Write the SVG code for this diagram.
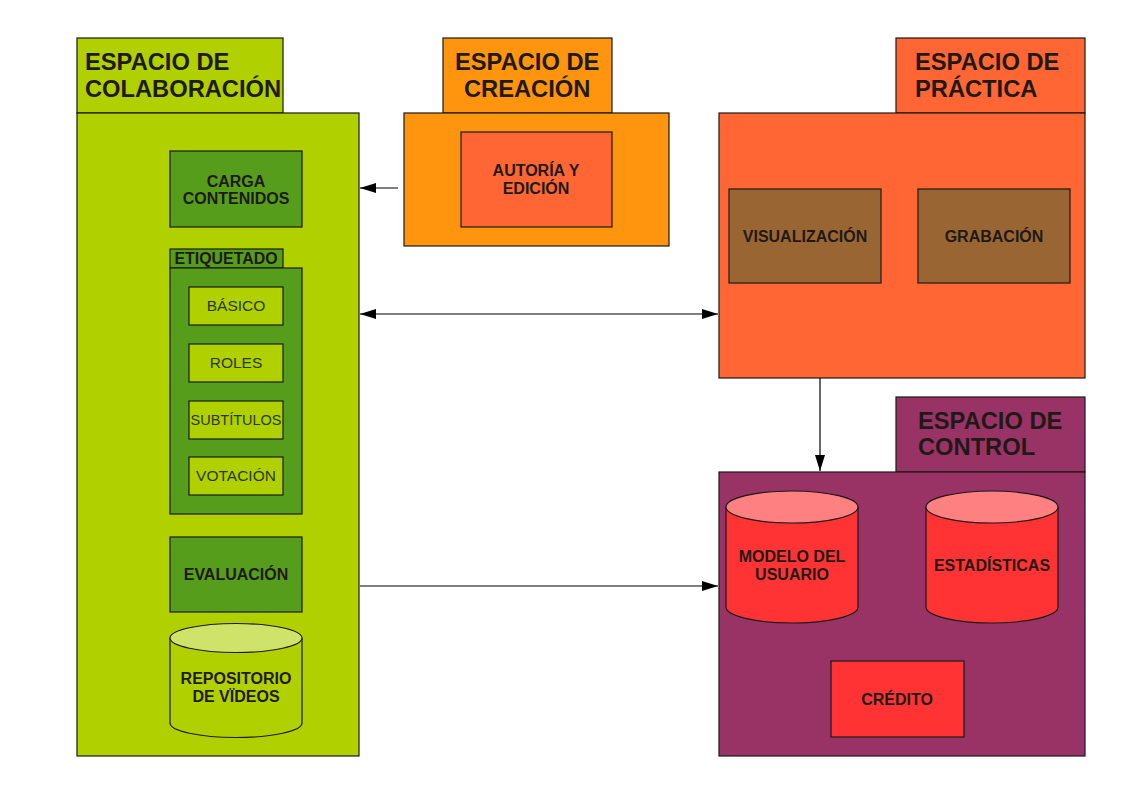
<svg xmlns="http://www.w3.org/2000/svg" width="1123" height="794" viewBox="0 0 1123 794">
<style>
.s{stroke:#1a1a1a;stroke-width:1.2}
.t{font-family:"Liberation Sans",Arial,sans-serif;font-weight:bold;font-size:23.7px;fill:#1f1a17}
.b{font-family:"Liberation Sans",Arial,sans-serif;font-weight:bold;font-size:16px;fill:#1f1a17;text-anchor:middle}
.r{font-family:"Liberation Sans",Arial,sans-serif;font-size:15.5px;fill:#2a3a10;text-anchor:middle}
.ln{stroke:#000;stroke-width:1.2;fill:none}
</style>
<defs>
<marker id="ah" viewBox="0 0 16 10" refX="16" refY="5" markerWidth="16" markerHeight="10" markerUnits="userSpaceOnUse" orient="auto-start-reverse"><path d="M0,0 L16,5 L0,10 Z" fill="#000"/></marker>
</defs>
<rect width="1123" height="794" fill="#fff"/>

<g id="colaboracion">
<rect class="s" x="77" y="38" width="206" height="75" fill="#b0d000"/>
<rect class="s" x="77" y="113" width="282" height="643" fill="#b0d000"/>
<text class="t" x="85" y="70">ESPACIO DE</text>
<text class="t" x="85" y="97">COLABORACIÓN</text>
</g>
<g id="carga">
<rect class="s" x="170" y="151" width="132" height="76" fill="#579d1c"/>
<text class="b" x="236" y="187">CARGA</text>
<text class="b" x="236" y="204">CONTENIDOS</text>
</g>
<g id="etiquetado">
<rect class="s" x="170" y="249" width="113" height="19" fill="#579d1c"/>
<rect class="s" x="170" y="268" width="132" height="246" fill="#579d1c"/>
<text class="b" x="226" y="264" textLength="103" lengthAdjust="spacingAndGlyphs">ETIQUETADO</text>
</g>
<g id="basico"><rect class="s" x="189" y="287" width="94" height="38" fill="#b0d000"/><text class="r" x="236" y="311">BÁSICO</text></g>
<g id="roles"><rect class="s" x="189" y="344" width="94" height="38" fill="#b0d000"/><text class="r" x="236" y="368">ROLES</text></g>
<g id="subtitulos"><rect class="s" x="189" y="401" width="94" height="38" fill="#b0d000"/><text class="r" x="236" y="425" textLength="91" lengthAdjust="spacingAndGlyphs">SUBTÍTULOS</text></g>
<g id="votacion"><rect class="s" x="189" y="457" width="94" height="38" fill="#b0d000"/><text class="r" x="236" y="481">VOTACIÓN</text></g>
<g id="evaluacion">
<rect class="s" x="170" y="537" width="132" height="75" fill="#579d1c"/>
<text class="b" x="236" y="580">EVALUACIÓN</text>
</g>
<g id="repositorio">
<path class="s" d="M170,638 L170,723 A66,14.5 0 0 0 302,723 L302,638" fill="#b0d000"/>
<ellipse class="s" cx="236" cy="638" rx="66" ry="14.5" fill="#cfe36b"/>
<text class="b" x="236" y="684">REPOSITORIO</text>
<text class="b" x="236" y="702">DE VÏDEOS</text>
</g>

<g id="creacion">
<rect class="s" x="443" y="38" width="169" height="75" fill="#ff950e"/>
<rect class="s" x="404" y="113" width="265" height="133" fill="#ff950e"/>
<text class="t" x="455" y="70">ESPACIO DE</text>
<text class="t" x="464" y="97">CREACIÓN</text>
</g>
<g id="autoria">
<rect class="s" x="461" y="132" width="151" height="95" fill="#ff6633"/>
<text class="b" x="536" y="176">AUTORÍA Y</text>
<text class="b" x="536" y="194">EDICIÓN</text>
</g>

<g id="practica">
<rect class="s" x="896" y="38" width="189" height="75" fill="#ff6633"/>
<rect class="s" x="719" y="113" width="366" height="265" fill="#ff6633"/>
<text class="t" x="915" y="70">ESPACIO DE</text>
<text class="t" x="915" y="97">PRÁCTICA</text>
</g>
<g id="visualizacion">
<rect class="s" x="729" y="189" width="152" height="94" fill="#996633"/>
<text class="b" x="805" y="242">VISUALIZACIÓN</text>
</g>
<g id="grabacion">
<rect class="s" x="918" y="189" width="152" height="94" fill="#996633"/>
<text class="b" x="994" y="242">GRABACIÓN</text>
</g>

<g id="control">
<rect class="s" x="896" y="397" width="189" height="75" fill="#993366"/>
<rect class="s" x="719" y="472" width="366" height="284" fill="#993366"/>
<text class="t" x="918" y="429">ESPACIO DE</text>
<text class="t" x="918" y="455">CONTROL</text>
</g>
<g id="modelo">
<path class="s" d="M726,507 L726,607 A66,16 0 0 0 858,607 L858,507" fill="#ff3333"/>
<ellipse class="s" cx="792" cy="507" rx="66" ry="16" fill="#ff8080"/>
<text class="b" x="792" y="562">MODELO DEL</text>
<text class="b" x="792" y="580">USUARIO</text>
</g>
<g id="estadisticas">
<path class="s" d="M926,507 L926,607 A66,16 0 0 0 1058,607 L1058,507" fill="#ff3333"/>
<ellipse class="s" cx="992" cy="507" rx="66" ry="16" fill="#ff8080"/>
<text class="b" x="992" y="571">ESTADÍSTICAS</text>
</g>
<g id="credito">
<rect class="s" x="831" y="661" width="133" height="76" fill="#ff3333"/>
<text class="b" x="897" y="705">CRÉDITO</text>
</g>

<g id="connectors">
<line class="ln" x1="398" y1="188" x2="360" y2="188" marker-end="url(#ah)"/>
<line class="ln" x1="360" y1="314" x2="718" y2="314" marker-start="url(#ah)" marker-end="url(#ah)"/>
<line class="ln" x1="820" y1="378" x2="820" y2="471" marker-end="url(#ah)"/>
<line class="ln" x1="360" y1="586" x2="718" y2="586" marker-end="url(#ah)"/>
</g>
</svg>
